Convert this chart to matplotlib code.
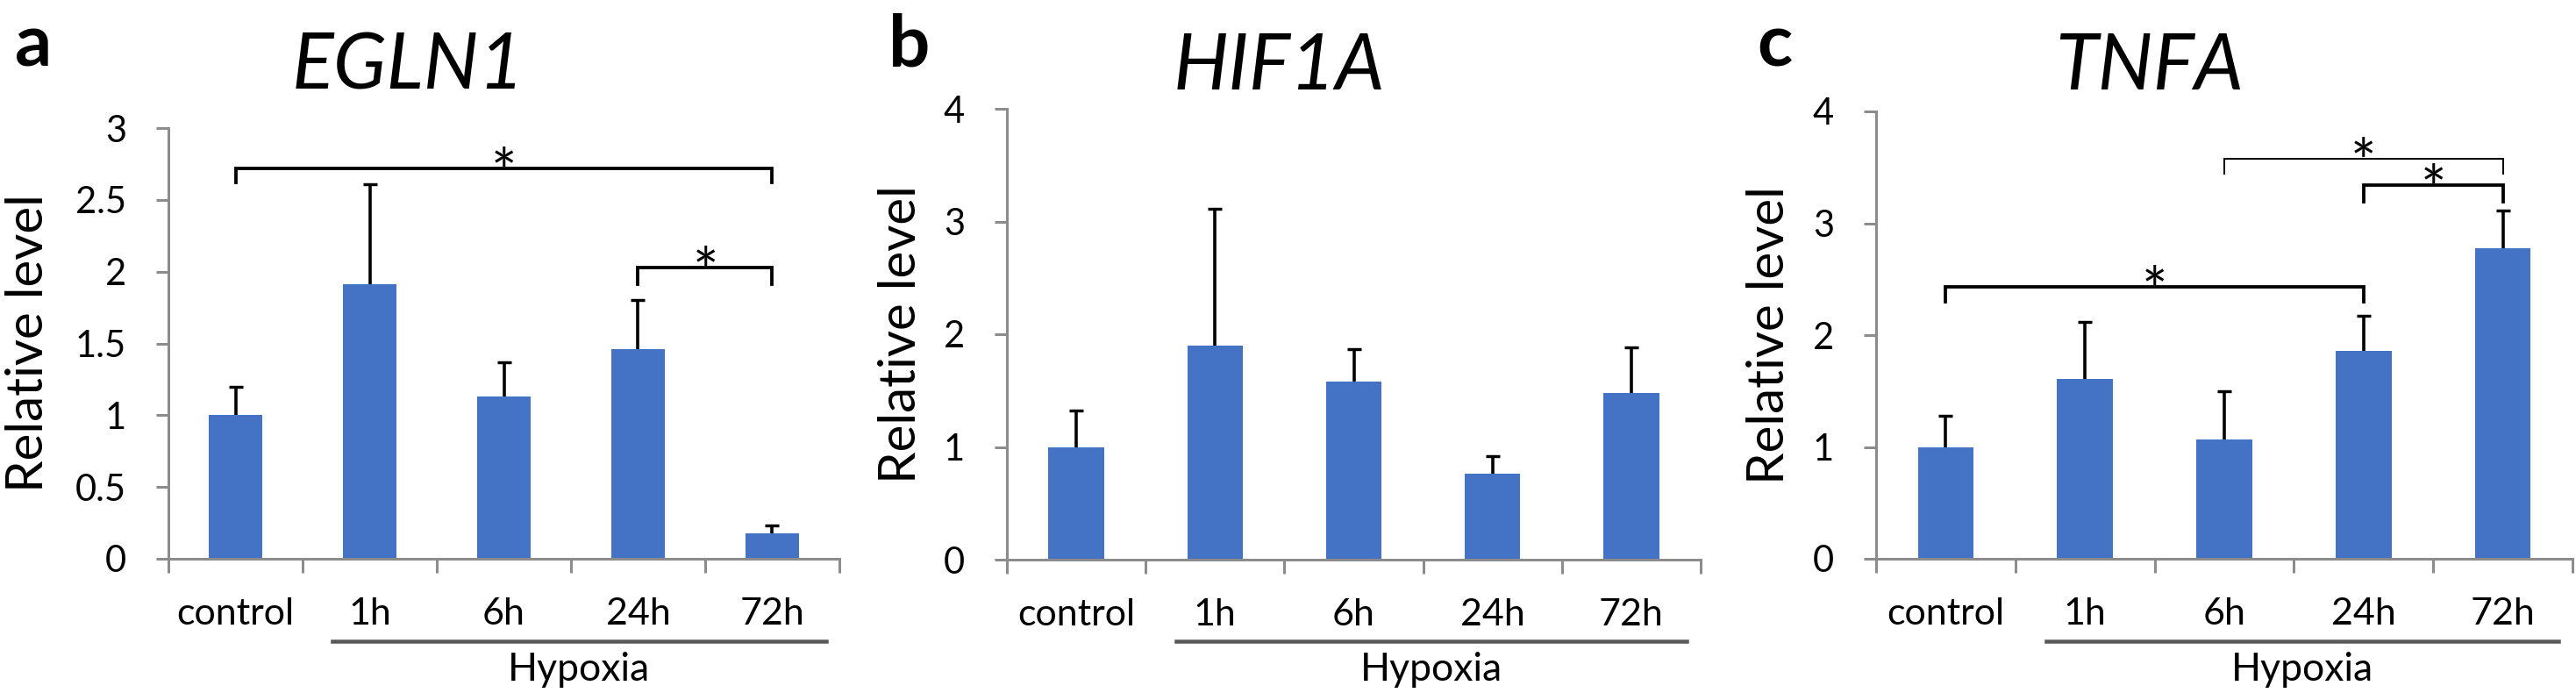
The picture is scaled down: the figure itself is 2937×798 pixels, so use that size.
import matplotlib
matplotlib.use("Agg")
import matplotlib.pyplot as plt
import matplotlib.transforms as mtransforms
from matplotlib.lines import Line2D
import numpy as np

plt.rcParams['font.family'] = ['Lato', 'DejaVu Sans']

# ---------------- data ----------------
categories = ["control", "1h", "6h", "24h", "72h"]
group_label = "Hypoxia"
panel_letters = ["a", "b", "c"]
genes = ["EGLN1", "HIF1A", "TNFA"]

egln1_mean = [1.00, 1.91, 1.13, 1.46, 0.18]
egln1_err = [0.20, 0.70, 0.24, 0.34, 0.05]
hif1a_mean = [1.00, 1.90, 1.58, 0.76, 1.48]
hif1a_err = [0.32, 1.21, 0.29, 0.16, 0.40]
tnfa_mean = [1.00, 1.61, 1.07, 1.86, 2.78]
tnfa_err = [0.28, 0.51, 0.43, 0.31, 0.33]

egln1_yticks = [0, 0.5, 1, 1.5, 2, 2.5, 3]
hif1a_yticks = [0, 1, 2, 3, 4]
tnfa_yticks = [0, 1, 2, 3, 4]

# significance brackets: (from index, to index, bracket height, leg drop, thick?)
egln1_sig = [(0, 4, 2.72, 0.10, True), (3, 4, 2.03, 0.12, True)]
hif1a_sig = []
tnfa_sig = [(0, 3, 2.43, 0.13, True), (2, 4, 3.58, 0.14, False), (3, 4, 3.34, 0.15, True)]

# ---------------- figure ----------------
W, H = 2937, 798
DPI = 100
fig = plt.figure(figsize=(W / DPI, H / DPI), dpi=DPI)
PX = 72.0 / DPI  # points per pixel

BAR = "#4472C4"
GREY = "#8C8C8C"

panels = [
    dict(mean=egln1_mean, err=egln1_err, yt=egln1_yticks, sig=egln1_sig,
         box=(192, 957, 637, 146), ylim=(0, 3), title_x=465, letter_x=38, ylab_x=32),
    dict(mean=hif1a_mean, err=hif1a_err, yt=hif1a_yticks, sig=hif1a_sig,
         box=(1148, 1939, 638, 124), ylim=(0, 4), title_x=1458, letter_x=1037, ylab_x=1028),
    dict(mean=tnfa_mean, err=tnfa_err, yt=tnfa_yticks, sig=tnfa_sig,
         box=(2139, 2933, 637, 127), ylim=(0, 4), title_x=2451, letter_x=2023, ylab_x=2017),
]

for i, p in enumerate(panels):
    l, r, b0, t = p["box"]
    ax = fig.add_axes([l / W, 1 - b0 / H, (r - l) / W, (b0 - t) / H])
    x = np.arange(len(categories))
    mean = np.array(p["mean"])
    err = np.array(p["err"])
    ax.bar(x, mean, width=0.4, color=BAR, zorder=2)
    ax.vlines(x, mean, mean + err, color="black", lw=3.6 * PX, zorder=3)
    ax.plot(x, mean + err, ls="none", marker="_", ms=16 * PX, mew=3.4 * PX,
            color="black", zorder=3)

    ax.set_xlim(-0.5, len(categories) - 0.5)
    ax.set_ylim(*p["ylim"])
    for s in ["top", "right"]:
        ax.spines[s].set_visible(False)
    for s in ["left", "bottom"]:
        ax.spines[s].set_color(GREY)
        ax.spines[s].set_linewidth(3 * PX)

    ax.set_yticks(p["yt"])
    ax.set_yticklabels([("%g" % v) for v in p["yt"]])
    ax.tick_params(axis="y", direction="out", length=14 * PX, width=3 * PX,
                   color=GREY, labelsize=30, pad=34 * PX)
    ax.set_xticks(np.arange(-0.5, len(categories)), labels=[""] * (len(categories) + 1))
    ax.set_xticks(x, labels=categories, minor=True)
    ax.tick_params(axis="x", which="major", direction="out", length=16 * PX,
                   width=3 * PX, color=GREY)
    ax.tick_params(axis="x", which="minor", length=0, labelsize=31, pad=44 * PX)

    ax.set_ylabel("Relative level", fontsize=42, va="center")
    ax.yaxis.set_label_coords((p["ylab_x"] - l) / (r - l), 0.5)

    # hypoxia group line and label
    line_tr = mtransforms.offset_copy(ax.get_xaxis_transform(), fig=fig,
                                      x=0, y=-(731 - b0), units="dots")
    ax.add_line(Line2D([0.72, 4.40], [0, 0], transform=line_tr, color="#595959",
                       lw=4.5 * PX, clip_on=False))
    txt_tr = mtransforms.offset_copy(ax.get_xaxis_transform(), fig=fig,
                                     x=0, y=-(763 - b0), units="dots")
    ax.text(2.56, 0, group_label, transform=txt_tr, ha="center", va="center",
            fontsize=32)

    # significance brackets
    for (a_i, b_i, h, drop, thick) in p["sig"]:
        lw = (3.8 if thick else 2.0) * PX
        ax.plot([a_i, a_i, b_i, b_i], [h - drop, h, h, h - drop], color="black",
                lw=lw, clip_on=False, solid_joinstyle="miter", zorder=4)
        star_tr = mtransforms.offset_copy(ax.transData, fig=fig, x=0, y=-28, units="dots")
        ax.text((a_i + b_i) / 2, h, "*", transform=star_tr, ha="center",
                va="baseline", fontsize=50)

    fig.text(p["title_x"] / W, 1 - 102 / H, genes[i], ha="center", va="baseline",
             fontsize=64, style="italic")
    fig.text(p["letter_x"] / W, 1 - 75 / H, panel_letters[i], ha="center",
             va="baseline", fontsize=60, fontweight="bold")

fig.savefig("out.png", dpi=DPI)
